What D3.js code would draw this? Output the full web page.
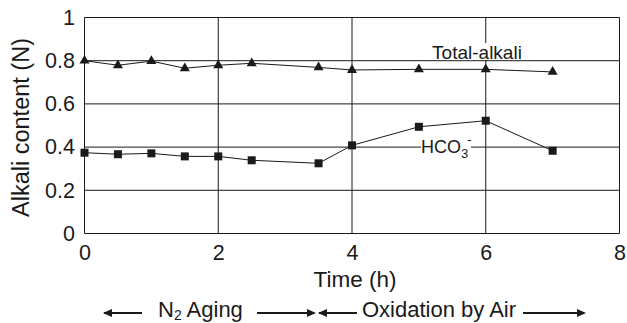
<!DOCTYPE html>
<html><head><meta charset="utf-8">
<script src="https://cdn.jsdelivr.net/npm/d3@7"></script>
<style>body{margin:0;background:#fff}svg{display:block;font-family:"Liberation Sans",Arial,Helvetica,sans-serif}</style>
</head><body><svg width="627" height="323"></svg>
<script>
const timeH = [0, 0.5, 1, 1.5, 2, 2.5, 3.5, 4, 5, 6, 7];
const totalAlkali = [0.800, 0.779, 0.798, 0.765, 0.779, 0.788, 0.769, 0.757, 0.760, 0.760, 0.748];
const hco3 = [0.374, 0.367, 0.371, 0.357, 0.357, 0.339, 0.325, 0.408, 0.494, 0.522, 0.383];
const xTicks = [0, 2, 4, 6, 8];
const yTicks = [0, 0.2, 0.4, 0.6, 0.8, 1];

const svg = d3.select("svg");
const x = d3.scaleLinear().domain([0, 8]).range([84.5, 619.5]);
const y = d3.scaleLinear().domain([0, 1]).range([233.5, 17.5]);
const ink = "#1a1a1a";
const ff = "Liberation Sans, Arial, sans-serif";

// grid
const g = svg.append("g");
g.selectAll(".hg").data(yTicks).join("line")
  .attr("x1", x(0)).attr("x2", x(8)).attr("y1", d => y(d)).attr("y2", d => y(d))
  .attr("stroke", ink).attr("stroke-width", 1);
g.selectAll(".vg").data(xTicks).join("line")
  .attr("x1", d => x(d)).attr("x2", d => x(d)).attr("y1", y(0)).attr("y2", y(1))
  .attr("stroke", ink).attr("stroke-width", 1);

// axes labels
const yAxis = d3.axisLeft(y).tickValues(yTicks).tickFormat(d3.format("~g")).tickSize(0).tickPadding(9.5);
const ya = svg.append("g").attr("transform", `translate(${x(0)},0)`).call(yAxis);
ya.select(".domain").remove();
ya.selectAll("text").attr("font-size", 21.5).attr("fill", ink).attr("font-family", ff);

const xAxis = d3.axisBottom(x).tickValues(xTicks).tickFormat(d3.format("~g")).tickSize(0).tickPadding(11);
const xa = svg.append("g").attr("transform", `translate(0,${y(0)})`).call(xAxis);
xa.select(".domain").remove();
xa.selectAll("text").attr("font-size", 21.5).attr("fill", ink).attr("font-family", ff);

// series lines
const line = d3.line().x((d, i) => x(timeH[i])).y(d => y(d));
svg.append("path").datum(totalAlkali).attr("d", line).attr("fill", "none").attr("stroke", ink).attr("stroke-width", 1);
svg.append("path").datum(hco3).attr("d", line).attr("fill", "none").attr("stroke", ink).attr("stroke-width", 1);

const tri = d3.symbol().type(d3.symbolTriangle).size(44);
svg.selectAll(".tri").data(totalAlkali).join("path")
  .attr("d", tri).attr("transform", (d, i) => `translate(${x(timeH[i])},${y(d)})`).attr("fill", ink);
const sq = d3.symbol().type(d3.symbolSquare).size(64);
svg.selectAll(".sq").data(hco3).join("path")
  .attr("d", sq).attr("transform", (d, i) => `translate(${x(timeH[i])},${y(d)})`).attr("fill", ink);

// series labels with white background
svg.append("rect").attr("x", 431).attr("y", 43).attr("width", 92).attr("height", 17).attr("fill", "#fff");
svg.append("text").attr("x", 477).attr("y", 59).attr("text-anchor", "middle").attr("font-size", 19).attr("fill", ink).text("Total-alkali");

svg.append("rect").attr("x", 421).attr("y", 138).attr("width", 50).attr("height", 18).attr("fill", "#fff");
const ht = svg.append("text").attr("x", 421).attr("y", 153).attr("font-size", 18).attr("fill", ink);
ht.append("tspan").text("HCO");
ht.append("tspan").attr("font-size", 13).attr("dy", 5).text("3");
ht.append("tspan").attr("font-size", 13).attr("dy", -14).attr("dx", -1).text("-");

// axis titles
svg.append("text").attr("x", 355).attr("y", 287).attr("text-anchor", "middle").attr("font-size", 22.5).attr("fill", ink).text("Time (h)");
svg.append("text").attr("transform", "translate(29,127.5) rotate(-90)").attr("text-anchor", "middle").attr("font-size", 23.5).attr("fill", ink).text("Alkali content (N)");

// bottom phase annotation
const ay = 313;
function arrowLine(x1, x2) {
  svg.append("line").attr("x1", x1).attr("x2", x2).attr("y1", ay).attr("y2", ay).attr("stroke", ink).attr("stroke-width", 2);
}
function head(tip, dir) {
  const l = 9, h = 4;
  svg.append("path").attr("d", `M${tip},${ay} L${tip - dir * l},${ay - h} L${tip - dir * l},${ay + h} Z`).attr("fill", ink);
}
arrowLine(104, 142); head(103, -1);
svg.append("text").attr("x", 158).attr("y", 317).attr("font-size", 22).attr("fill", ink)
  .call(t => { t.append("tspan").text("N"); t.append("tspan").attr("font-size", 14).attr("dy", 3).text("2"); t.append("tspan").attr("dy", -3).text(" Aging"); });
arrowLine(257, 314); head(316, 1);
arrowLine(319, 357); head(318, -1);
svg.append("text").attr("x", 362).attr("y", 317).attr("font-size", 22).attr("fill", ink).text("Oxidation by Air");
arrowLine(523, 584); head(586, 1);
</script></body></html>
